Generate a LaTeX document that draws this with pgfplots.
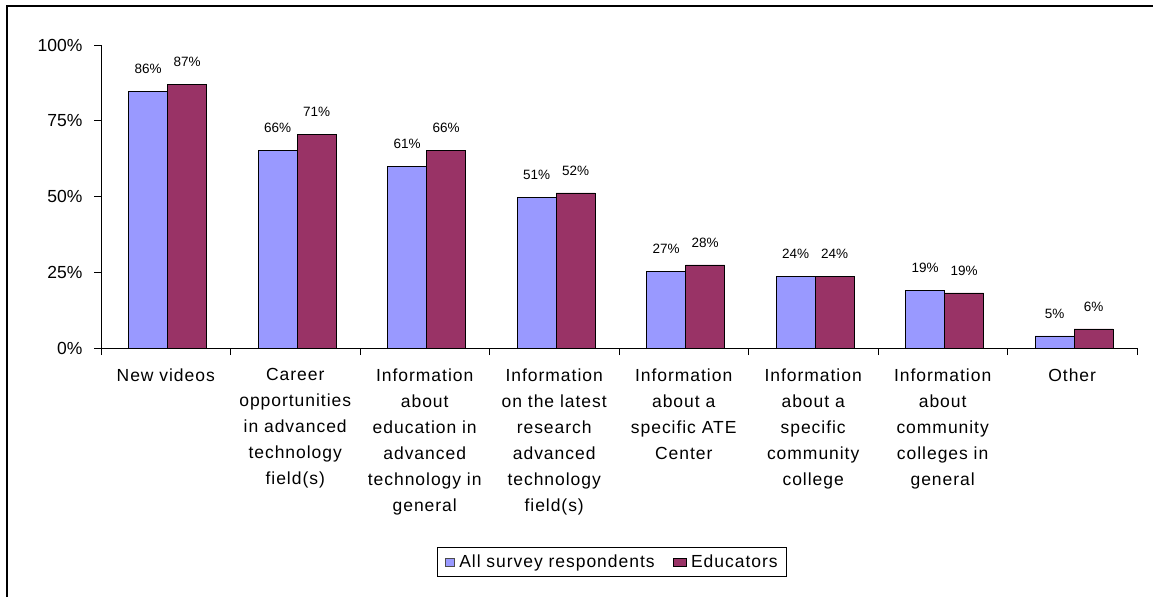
\documentclass[border=0pt]{standalone}
\usepackage{fontspec}
\setmainfont{Liberation Sans}
\newfontfamily\spaced[LetterSpace=5.5]{Liberation Sans}
\usepackage{pgfplots}
\usepackage{pgfplotstable}
\pgfplotsset{compat=1.18}
\definecolor{cblue}{HTML}{9999FF}
\definecolor{cmaroon}{HTML}{993366}

\pgfplotstableread{
x blue bl maroon ml
0 84.8 86 87.1 87
1 65.3 66 70.6 71
2 60.0 61 65.3 66
3 49.8 51 51.2 52
4 25.4 27 27.4 28
5 23.6 24 23.6 24
6 19.1 19 18.2 19
7 4.0 5 6.3 6
}\datatab

\begin{document}
\begin{tikzpicture}[x=1pt,y=1pt]
\useasboundingbox (0,0) rectangle (1153,597);
\draw[line width=2.5pt] (7,0) -- (7,591) -- (1153,591);
\begin{axis}[
  at={(101pt,249pt)}, anchor=south west,
  scale only axis, width=1036pt, height=303pt,
  ymin=0, ymax=100, xmin=-0.5, xmax=7.5,
  ybar=0pt, bar width=39pt,
  axis lines=left, axis line style={-, black, line width=0.8pt},
  ytick={0,25,50,75,100}, yticklabels={0\%,25\%,50\%,75\%,100\%},
  xtick={-0.5,0.5,...,7.5},
  x tick label as interval,
  xticklabels={New videos,
    Career\\opportunities\\in advanced\\technology\\field(s),
    Information\\about\\education in\\advanced\\technology in\\general,
    Information\\on the latest\\research\\advanced\\technology\\field(s),
    Information\\about a\\specific ATE\\Center,
    Information\\about a\\specific\\community\\college,
    Information\\about\\community\\colleges in\\general,
    Other},
  tick align=outside, major tick length=7pt,
  tick style={black, line width=0.8pt},
  yticklabel style={font=\fontsize{17.5}{20}\selectfont, xshift=-8pt},
  xticklabel style={font=\spaced\fontsize{17.5}{26}\selectfont, align=center, anchor=north, yshift=-10pt},
  nodes near coords={\pgfplotspointmeta\%},
  point meta=explicit symbolic,
  every node near coord/.append style={font=\fontsize{13.5}{16}\selectfont, black, anchor=south, yshift=14pt},
  legend style={at={(0.4935,-0.706)}, anchor=center, draw=black, line width=0.8pt,
    legend columns=2, font=\spaced\fontsize{17.5}{20}\selectfont,
    /tikz/every odd column/.append style={column sep=3pt},
    /tikz/every even column/.append style={column sep=16pt},
    inner xsep=7pt, inner ysep=5pt},
]
\addplot[fill=cblue, draw=black, line width=0.7pt, bar shift=-17.5pt,
  legend image code/.code={\draw[fill=cblue, draw=black!70, line width=0.5pt] (0pt,-4pt) rectangle (9pt,4pt);}]
  table[x=x, y=blue, meta=bl] {\datatab};
\addplot[fill=cmaroon, draw=black, line width=0.7pt, bar shift=21.5pt,
  legend image code/.code={\draw[fill=cmaroon, draw=black, line width=0.5pt] (0pt,-4pt) rectangle (13pt,4pt);}]
  table[x=x, y=maroon, meta=ml] {\datatab};
\legend{All survey respondents, Educators}
\end{axis}
\end{tikzpicture}
\end{document}
